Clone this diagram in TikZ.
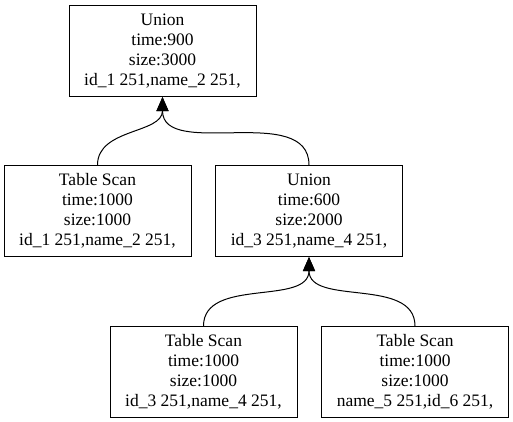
\documentclass[tikz,border=0pt]{standalone}
\usepackage{fontspec}
\setmainfont{Liberation Serif}
\usepackage{tikz}
\usetikzlibrary{arrows.meta,positioning}

\begin{document}
\begin{tikzpicture}[
        x=1pt, y=-1pt,
        block/.style={rectangle, draw, line width=1pt, align=center, inner sep=0pt, minimum width=187pt, minimum height=91pt, font=\fontsize{17.5}{20}\selectfont},
        arrow/.style={-{Triangle[length=14pt,width=12pt]}, line width=1pt}
    ]
        \useasboundingbox (0,0) rectangle (513,421);

        % Blocks
        \node[block] (union1) at (162.5,51) {Union\\time:900\\size:3000\\id\_1 251,name\_2 251,};
        \node[block, below=68pt of union1, xshift=-65pt] (scan1) {Table Scan\\time:1000\\size:1000\\id\_1 251,name\_2 251,};
        \node[block, below=68pt of union1, xshift=146.5pt] (union2) {Union\\time:600\\size:2000\\id\_3 251,name\_4 251,};
        \node[block, below=69pt of union2, xshift=-105.5pt] (scan2) {Table Scan\\time:1000\\size:1000\\id\_3 251,name\_4 251,};
        \node[block, below=69pt of union2, xshift=106pt] (scan3) {Table Scan\\time:1000\\size:1000\\name\_5 251,id\_6 251,};

        % Arrows
        \draw[arrow] (scan1.north) to[out=90, in=-90] (union1.south);
        \draw[arrow] (union2.north) to[out=90, in=-90] (union1.south);
        \draw[arrow] (scan2.north) to[out=90, in=-90] (union2.south);
        \draw[arrow] (scan3.north) to[out=90, in=-90] (union2.south);

    \end{tikzpicture}
\end{document}
